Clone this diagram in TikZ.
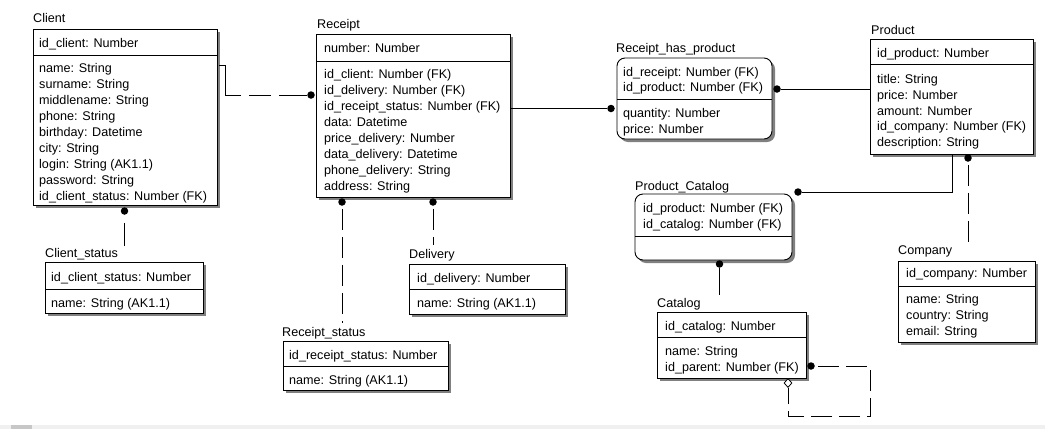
\documentclass[tikz,border=0pt]{standalone}
\usepackage{fontspec}
\setmainfont{Liberation Sans}
\usetikzlibrary{shadows,shapes.geometric}
\begin{document}
\begin{tikzpicture}[x=1pt,y=-1pt,
  ebox/.style={draw=black, line width=0.9pt, fill=white, anchor=north west, inner sep=0pt, outer sep=0pt,
    drop shadow={shadow xshift=3pt, shadow yshift=-3pt, fill=black!50, opacity=1}},
  rbox/.style={ebox, rounded corners=8pt},
  txt/.style={anchor=base west, inner sep=0pt, font=\fontsize{12.6}{14}\selectfont},
  dotn/.style={circle, fill=black, draw=none, inner sep=0pt, minimum size=7.5pt},
  rel/.style={line width=0.9pt},
  idf/.style={rel, dash pattern=on 21pt off 7pt, dash phase=25pt},
]
\useasboundingbox (0,0) rectangle (1045,429);
\fill[white] (0,0) rectangle (1045,429);
\fill[black!6] (0,425) rectangle (1045,429);
\fill[black!22] (11,425) rectangle (32,429);

% ---------- Client
\node[ebox, minimum width=184pt, minimum height=176pt] (client) at (33,29) {};
\node[txt] (client-t) at (33,22.5) {Client};
\draw[rel] (client.west |- 0,55) -- (client.east |- 0,55);
\node[txt] (client-k) at (39,47.5) {id\_client: Number};
\foreach \t [count=\i from 0] in {name: String, surname: String, middlename: String, phone: String, birthday: Datetime, city: String, login: String (AK1.1), password: String, id\_client\_status: Number (FK)}
  \node[txt] (client-a\i) at (39,72.5+16*\i) {\t};

% ---------- Client_status
\node[ebox, minimum width=158pt, minimum height=51pt] (cstatus) at (45,262) {};
\node[txt] (cstatus-t) at (45,257.5) {Client\_status};
\draw[rel] (cstatus.west |- 0,289) -- (cstatus.east |- 0,289);
\node[txt] (cstatus-k) at (51,281.5) {id\_client\_status: Number};
\node[txt] (cstatus-a) at (51,307.5) {name: String (AK1.1)};

% ---------- Receipt
\node[ebox, minimum width=194pt, minimum height=163pt] (receipt) at (316,34) {};
\node[txt] (receipt-t) at (317,28.5) {Receipt};
\draw[rel] (receipt.west |- 0,61) -- (receipt.east |- 0,61);
\node[txt] (receipt-k) at (324,52.5) {number: Number};
\foreach \t [count=\i from 0] in {id\_client: Number (FK), id\_delivery: Number (FK), id\_receipt\_status: Number (FK), data: Datetime, price\_delivery: Number, data\_delivery: Datetime, phone\_delivery: String, address: String}
  \node[txt] (receipt-a\i) at (324,78.5+16*\i) {\t};

% ---------- Delivery
\node[ebox, minimum width=156pt, minimum height=50pt] (delivery) at (409,264) {};
\node[txt] (delivery-t) at (409,258.5) {Delivery};
\draw[rel] (delivery.west |- 0,289) -- (delivery.east |- 0,289);
\node[txt] (delivery-k) at (417,282.5) {id\_delivery: Number};
\node[txt] (delivery-a) at (417,307.5) {name: String (AK1.1)};

% ---------- Receipt_status
\node[ebox, minimum width=165pt, minimum height=49pt] (rstatus) at (283,341) {};
\node[txt] (rstatus-t) at (282,336.5) {Receipt\_status};
\draw[rel] (rstatus.west |- 0,366) -- (rstatus.east |- 0,366);
\node[txt] (rstatus-k) at (289,359.5) {id\_receipt\_status: Number};
\node[txt] (rstatus-a) at (289,384.5) {name: String (AK1.1)};

% ---------- Receipt_has_product
\node[rbox, minimum width=155pt, minimum height=81pt] (rhp) at (617,58) {};
\node[txt] (rhp-t) at (616,52.5) {Receipt\_has\_product};
\draw[rel] (rhp.west |- 0,99) -- (rhp.east |- 0,99);
\node[txt] (rhp-k1) at (623,76.5) {id\_receipt: Number (FK)};
\node[txt] (rhp-k2) at (623,91.5) {id\_product: Number (FK)};
\node[txt] (rhp-a1) at (623,117.5) {quantity: Number};
\node[txt] (rhp-a2) at (623,133.5) {price: Number};

% ---------- Product
\node[ebox, minimum width=163pt, minimum height=115pt] (product) at (870,39) {};
\node[txt] (product-t) at (871,34.5) {Product};
\draw[rel] (product.west |- 0,64) -- (product.east |- 0,64);
\node[txt] (product-k) at (877,57.5) {id\_product: Number};
\foreach \t [count=\i from 0] in {title: String, price: Number, amount: Number, id\_company: Number (FK), description: String}
  \node[txt] (product-a\i) at (877,83.5+15.75*\i) {\t};

% ---------- Company
\node[ebox, minimum width=137pt, minimum height=81pt] (company) at (898,261) {};
\node[txt] (company-t) at (898,254.5) {Company};
\draw[rel] (company.west |- 0,286) -- (company.east |- 0,286);
\node[txt] (company-k) at (906,277.5) {id\_company: Number};
\foreach \t [count=\i from 0] in {name: String, country: String, email: String}
  \node[txt] (company-a\i) at (906,303.5+16.2*\i) {\t};

% ---------- Product_Catalog
\node[rbox, minimum width=157pt, minimum height=66pt] (pcat) at (635,194) {};
\node[txt] (pcat-t) at (635,190.5) {Product\_Catalog};
\draw[rel] (pcat.west |- 0,236) -- (pcat.east |- 0,236);
\node[txt] (pcat-k1) at (643,212.5) {id\_product: Number (FK)};
\node[txt] (pcat-k2) at (643,228.5) {id\_catalog: Number (FK)};

% ---------- Catalog
\node[ebox, minimum width=149pt, minimum height=66pt] (catalog) at (657,312) {};
\node[txt] (catalog-t) at (657,307.5) {Catalog};
\draw[rel] (catalog.west |- 0,337) -- (catalog.east |- 0,337);
\node[txt] (catalog-k) at (665,330.5) {id\_catalog: Number};
\node[txt] (catalog-a1) at (665,355.5) {name: String};
\node[txt] (catalog-a2) at (665,371.5) {id\_parent: Number (FK)};

% ---------- dots and connector points
\node[dotn] (d-cr) at (311,95) {};
\node[dotn] (d-rrhp) at (611,108.5) {};
\node[dotn] (d-prhp) at (777,89) {};
\node[dotn] (d-ppc) at (798,192) {};
\node[dotn] (d-pco) at (968,158) {};
\node[dotn] (d-rd) at (433,202) {};
\node[dotn] (d-rs) at (342,202) {};
\node[dotn] (d-cs) at (124.5,211) {};
\node[dotn] (d-pcc) at (719.5,264) {};
\node[dotn] (d-cc) at (811,366) {};
\node[diamond, draw=black, line width=0.8pt, fill=white, inner sep=0pt, minimum width=8pt, minimum height=9pt] (dia) at (788,383) {};

\coordinate (cr-s) at (219,65);
\coordinate (cr-b) at (225,95);
\coordinate (pb) at (952,154);
\coordinate (co-top) at (968,242);
\coordinate (rd-end) at (433,245);
\coordinate (rs-end) at (342,323);
\coordinate (cs-end) at (124.5,246);
\coordinate (pcc-end) at (719.5,295);
\coordinate (cc-1) at (870,366);
\coordinate (cc-2) at (870,416);
\coordinate (cc-3) at (788,416);

% ---------- connectors
\draw[rel, dash pattern=on 52pt off 8pt on 22pt off 8pt] (cr-s) -| (cr-b) -- (d-cr);
\draw[rel] (receipt.east |- d-rrhp) -- (d-rrhp);
\draw[rel] (d-prhp) -- (product.west |- d-prhp);
\draw[rel] (pb) |- (d-ppc);
\draw[idf] (d-pco) -- (co-top);
\draw[idf] (d-rd) -- (rd-end);
\draw[idf] (d-rs) -- (rs-end);
\draw[rel, shorten <=8pt] (d-cs) -- (cs-end);
\draw[rel] (d-pcc) -- (pcc-end);
\draw[idf] (d-cc) -- (cc-1) -- (cc-2) -- (cc-3) -- (dia.south);
\end{tikzpicture}
\end{document}
